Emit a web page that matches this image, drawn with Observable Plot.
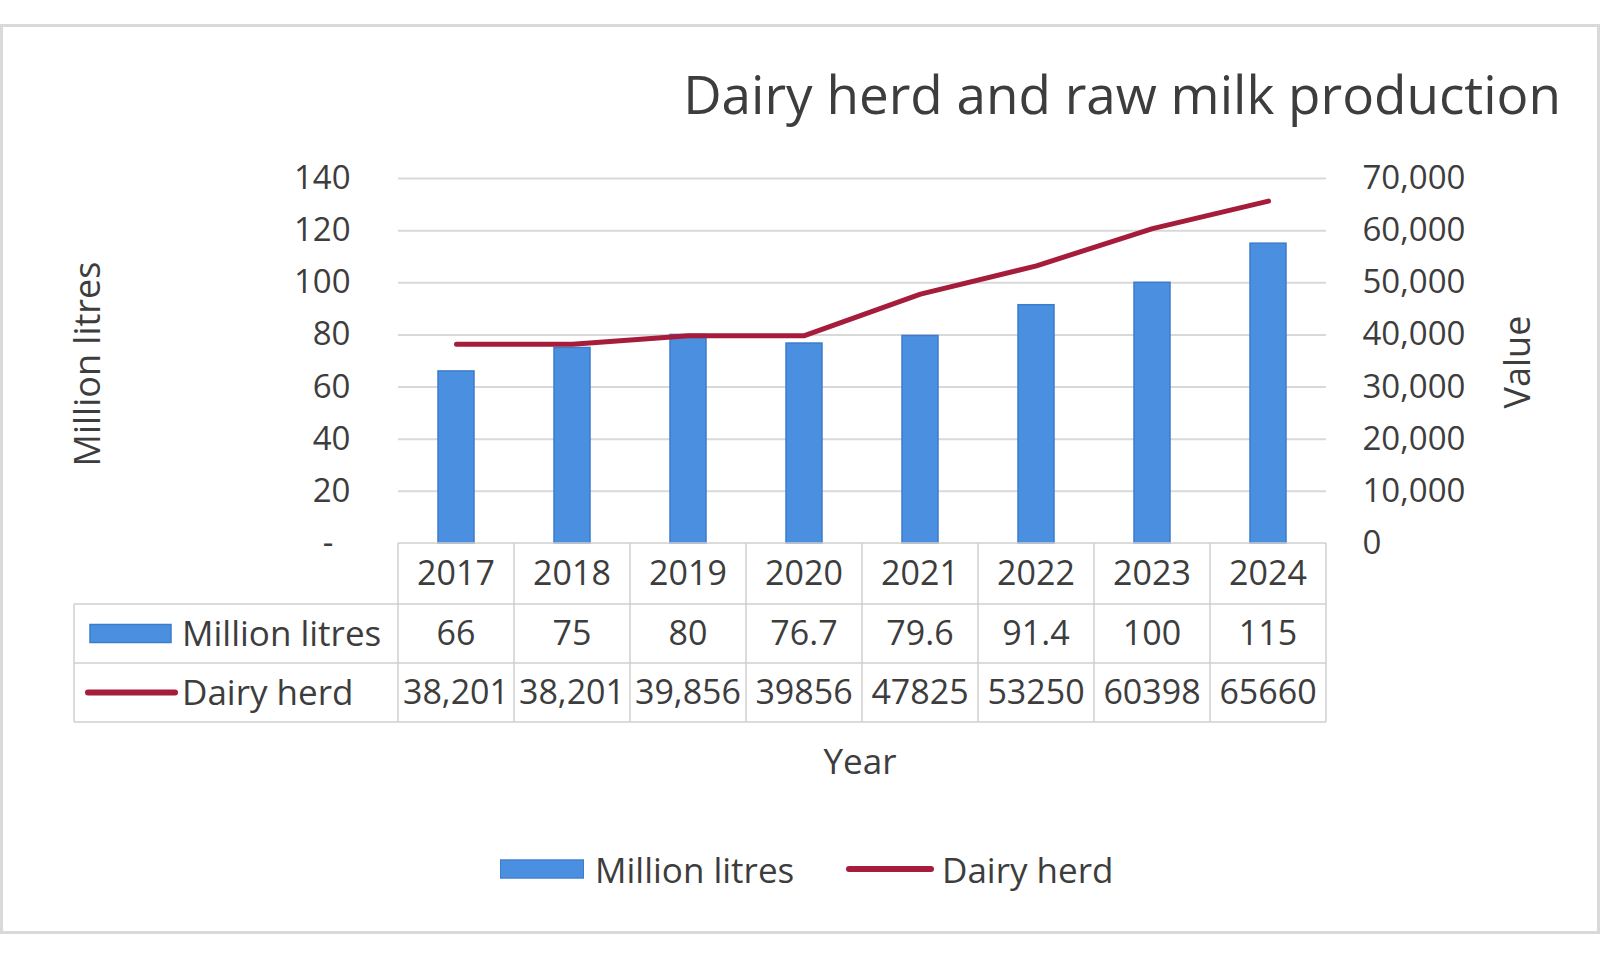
<!DOCTYPE html>
<html>
<head>
<meta charset="utf-8">
<script src="https://cdn.jsdelivr.net/npm/d3@7"></script>
<script src="https://cdn.jsdelivr.net/npm/@observablehq/plot@0.6"></script>
<style>
html,body{margin:0;padding:0;background:#fff;}
body{width:1600px;height:960px;position:relative;overflow:hidden;font-family:"Open Sans",sans-serif;color:#3d3d3d;}
#frame{position:absolute;left:0;top:24px;width:1594px;height:904px;border:3px solid #d9d9d9;}
#title{position:absolute;right:39px;top:67px;font-size:53px;line-height:54px;font-weight:400;white-space:nowrap;}
#chart{position:absolute;left:0;top:0;}
.rot{position:absolute;font-size:36px;line-height:36px;white-space:nowrap;transform:translate(-50%,-50%) rotate(-90deg);}
#ylabL{left:87px;top:364px;}
#ylabR{left:1517px;top:362px;}
#xlab{position:absolute;left:860px;top:760px;transform:translate(-50%,-50%);font-size:35px;line-height:35px;white-space:nowrap;}
.lg{position:absolute;top:869px;transform:translateY(-50%);}
.lgtext{font-size:35px;line-height:35px;white-space:nowrap;}
</style>
</head>
<body>
<div id="frame"></div>
<div id="title"></div>
<div id="chart"></div>
<div id="ylabL" class="rot"></div>
<div id="ylabR" class="rot"></div>
<div id="xlab"></div>
<div id="legend"></div>
<script>
// ---- data ----
const titleText = "Dairy herd and raw milk production";
const years = ["2017","2018","2019","2020","2021","2022","2023","2024"];
const litres = [66, 75, 80, 76.7, 79.6, 91.4, 100, 115];
const herd = [38201, 38201, 39856, 39856, 47825, 53250, 60398, 65660];
const litresLabels = ["66","75","80","76.7","79.6","91.4","100","115"];
const herdLabels = ["38,201","38,201","39,856","39856","47825","53250","60398","65660"];
const seriesNames = ["Million litres", "Dairy herd"];
const leftTicks = [0,20,40,60,80,100,120,140];
const leftTickLabels = ["-\u00a0\u00a0","20","40","60","80","100","120","140"];
const rightTickLabels = ["0","10,000","20,000","30,000","40,000","50,000","60,000","70,000"];
const ratio = 500; // right axis units per left axis unit
const leftTitle = "Million litres", rightTitle = "Value", xTitle = "Year";

const blue = "#4a8fe0", blueEdge = "#3d7ccb", red = "#a51d3a", gridColor = "#d9d9d9", tableLine = "#cfcfcf";

const data = years.map((year, i) => ({year, litres: litres[i], herd: herd[i]}));

function tableMark(index, scales, values, dims) {
  const x = scales.x;
  const bw = x.bandwidth ? x.bandwidth() : (x(years[1]) - x(years[0]));
  const left = dims.marginLeft, right = dims.width - dims.marginRight;
  const top = dims.height - dims.marginBottom;
  const rows = [top, top + 61, top + 120, top + 179];
  const labelLeft = 74;
  const g = d3.create("svg:g").attr("font-size", 34).attr("fill", "#3d3d3d");
  const hl = (x1, x2, y) => g.append("line").attr("x1", x1).attr("x2", x2).attr("y1", y).attr("y2", y)
      .attr("stroke", tableLine).attr("stroke-width", 1.5);
  const vl = (xx, y1, y2) => g.append("line").attr("x1", xx).attr("x2", xx).attr("y1", y1).attr("y2", y2)
      .attr("stroke", tableLine).attr("stroke-width", 1.5);
  hl(left, right, rows[0]);
  hl(labelLeft, right, rows[1]);
  hl(labelLeft, right, rows[2]);
  hl(labelLeft, right, rows[3]);
  years.forEach(yr => vl(x(yr), rows[0], rows[3]));
  vl(right, rows[0], rows[3]);
  vl(labelLeft, rows[1], rows[3]);
  const mid = r => (rows[r] + rows[r + 1]) / 2;
  const txt = (tx, ty, s, anchor, fs) => g.append("text").attr("x", tx).attr("y", ty).attr("dy", "0.35em")
      .attr("text-anchor", anchor).attr("font-size", fs || null).text(s);
  years.forEach((yr, i) => {
    const cx = x(yr) + bw / 2;
    txt(cx, mid(0), yr, "middle");
    txt(cx, mid(1), litresLabels[i], "middle");
    txt(cx, mid(2), herdLabels[i], "middle");
  });
  // row keys
  g.append("rect").attr("x", labelLeft + 16).attr("y", mid(1) - 9).attr("width", 81).attr("height", 18)
    .attr("fill", blue).attr("stroke", blueEdge).attr("stroke-width", 1.5);
  g.append("line").attr("x1", labelLeft + 14).attr("x2", labelLeft + 101).attr("y1", mid(2)).attr("y2", mid(2))
    .attr("stroke", red).attr("stroke-width", 6).attr("stroke-linecap", "round");
  txt(labelLeft + 108, mid(1), seriesNames[0], "start", 35);
  txt(labelLeft + 108, mid(2), seriesNames[1], "start", 35);
  return g.node();
}

const chart = Plot.plot({
  width: 1600,
  height: 790,
  marginLeft: 398,
  marginRight: 274,
  marginTop: 178,
  marginBottom: 247,
  style: {fontFamily: "'Open Sans', sans-serif", fontSize: "33px", color: "#3d3d3d", background: "transparent", overflow: "visible"},
  x: {type: "band", domain: years, padding: 0, axis: null},
  y: {domain: [0, 140], label: null},
  marks: [
    Plot.gridY(leftTicks.slice(1), {stroke: gridColor, strokeOpacity: 1, strokeWidth: 2}),
    Plot.axisY(leftTicks, {anchor: "left", tickSize: 0, tickPadding: 48, label: null,
      tickFormat: d => leftTickLabels[leftTicks.indexOf(d)]}),
    Plot.axisY(leftTicks, {anchor: "right", tickSize: 0, tickPadding: 36, label: null,
      tickFormat: d => rightTickLabels[leftTicks.indexOf(d)]}),
    Plot.barY(data, {x: "year", y: "litres", fill: blue, stroke: blueEdge, strokeWidth: 1.5, insetLeft: 40, insetRight: 40}),
    Plot.line(data, {x: "year", y: d => d.herd / ratio, stroke: red, strokeWidth: 5, strokeLinecap: "round", strokeLinejoin: "round"}),
    tableMark
  ]
});
document.getElementById("chart").appendChild(chart);

document.getElementById("title").textContent = titleText;
document.getElementById("ylabL").textContent = leftTitle;
document.getElementById("ylabR").textContent = rightTitle;
document.getElementById("xlab").textContent = xTitle;

// bottom legend
const legend = document.getElementById("legend");
function addEl(html) { const d = document.createElement("div"); d.innerHTML = html; legend.appendChild(d.firstChild); }
addEl(`<div class="lg" style="left:500px;width:82px;height:17px;background:${blue};border:1px solid ${blueEdge};"></div>`);
addEl(`<div class="lg lgtext" style="left:595px;">${seriesNames[0]}</div>`);
addEl(`<div class="lg" style="left:846px;width:88px;height:6px;border-radius:3px;background:${red};"></div>`);
addEl(`<div class="lg lgtext" style="left:942px;">${seriesNames[1]}</div>`);
</script>
</body>
</html>
